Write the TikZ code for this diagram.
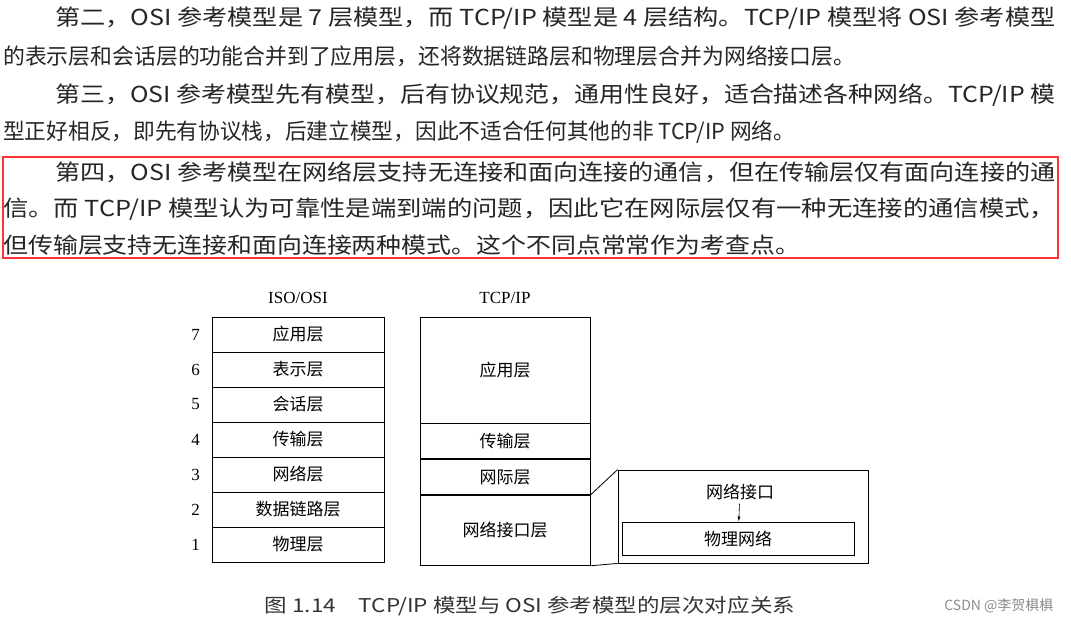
\documentclass[tikz,border=0pt]{standalone}
\usepackage{fontspec}
\setmainfont{Liberation Serif}
\newfontfamily\cjk{Noto Sans CJK SC}
\usetikzlibrary{arrows.meta,positioning}
\newcommand\fitto[2]{\resizebox{#1}{\height}{#2}}

\begin{document}
\begin{tikzpicture}[
    x = 1pt, y = -1pt, % pixel grid of the page
    textline/.style = {font=\cjk\fontsize{22}{24}\selectfont, anchor=west, inner sep=0pt, text=black!85},
    layer/.style = {draw, thick, minimum width=172pt, minimum height=35pt, font=\cjk\fontsize{17}{18}\selectfont, inner sep=0pt},
    num/.style = {font=\fontsize{17}{18}\selectfont},
    semithick
    ]
    \useasboundingbox[fill=white] (0,0) rectangle (1071,626);

    % paragraphs
    \node[textline] (p1) at (55,18) {\fitto{1000pt}{第二，OSI 参考模型是 7 层模型，而 TCP/IP 模型是 4 层结构。TCP/IP 模型将 OSI 参考模型}};
    \node[textline] (p2) at (3,56) {\fitto{852pt}{的表示层和会话层的功能合并到了应用层，还将数据链路层和物理层合并为网络接口层。}};
    \node[textline] (p3) at (55,95) {\fitto{1000pt}{第三，OSI 参考模型先有模型，后有协议规范，通用性良好，适合描述各种网络。TCP/IP 模}};
    \node[textline] (p4) at (3,132) {\fitto{792pt}{型正好相反，即先有协议栈，后建立模型，因此不适合任何其他的非 TCP/IP 网络。}};
    \node[textline] (p5) at (55,172) {\fitto{1000pt}{第四，OSI 参考模型在网络层支持无连接和面向连接的通信，但在传输层仅有面向连接的通}};
    \node[textline] (p6) at (3,209) {\fitto{1052pt}{信。而 TCP/IP 模型认为可靠性是端到端的问题，因此它在网际层仅有一种无连接的通信模式，}};
    \node[textline] (p7) at (3,245) {\fitto{797pt}{但传输层支持无连接和面向连接两种模式。这个不同点常常作为考查点。}};
    \draw[red!80, line width=1.5pt] (3,157) rectangle (1058,258);

    % ISO/OSI stack
    \node[num] (osi) at (298,298) {ISO/OSI};
    \foreach \i/\t in {7/应用层,6/表示层,5/会话层,4/传输层,3/网络层,2/数据链路层,1/物理层} {
        \node[layer] (o\i) at (298,{317+35*(7-\i)+17.5}) {\t};
        \node[num, left=8pt of o\i] {\i};
    }

    % TCP/IP stack
    \node[num] (tcp) at (505,298) {TCP/IP};
    \node[layer, minimum width=170pt, minimum height=106pt] (tapp) at (505,370) {应用层};
    \node[layer, minimum width=170pt, below=0pt of tapp] (ttr) {传输层};
    \node[layer, minimum width=170pt, below=0pt of ttr] (tnet) {网际层};
    \node[layer, minimum width=170pt, minimum height=70pt, below=0pt of tnet] (tif) {网络接口层};

    % expanded network interface
    \node[draw, thick, minimum width=250pt, minimum height=93pt] (ifbox) at (743,516.5) {};
    \node[layer, minimum width=232pt, minimum height=33pt] (phys) at (738,538.5) {物理网络};
    \node[font=\cjk\fontsize{17}{18}\selectfont] (ifl) at (740,492) {网络接口};
    \draw[-{Latex[length=5pt,width=3pt]}] (ifl) -- (phys);
    \draw[thick] (tnet.south east) -- (ifbox.north west);
    \draw[thick] (tif.south east) -- (ifbox.south west);

    % caption
    \node[font=\cjk\fontsize{19}{20}\selectfont, text=black!80] (cap) at (530,606) {\fitto{530pt}{图 1.14\quad TCP/IP 模型与 OSI 参考模型的层次对应关系}};
    \node[font=\cjk\fontsize{14}{16}\selectfont, text=black!45, anchor=east] (mark) at (1057,606) {CSDN @李贺椇椇};
\end{tikzpicture}
\end{document}
